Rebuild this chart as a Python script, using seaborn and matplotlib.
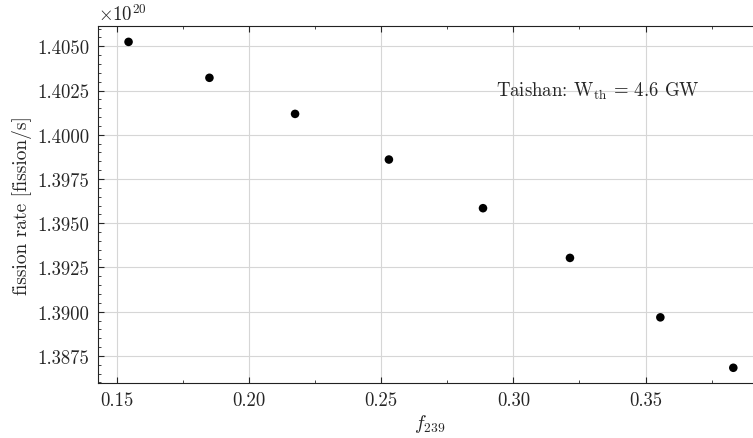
import matplotlib
matplotlib.use("Agg")
import matplotlib.pyplot as plt
import seaborn as sns
import pandas as pd
from matplotlib.ticker import AutoMinorLocator, MultipleLocator

# data (fission rate in units of 1e20 fission/s)
f239 = [0.1544, 0.1850, 0.2174, 0.2529, 0.2885, 0.3214, 0.3556, 0.3832]
rate_e20 = [1.40525, 1.40322, 1.40118, 1.39860, 1.39585, 1.39304, 1.38968, 1.38683]
annotation = r"Taishan: W$_{\rm th}$ = 4.6 GW"

df = pd.DataFrame({"f239": f239, "rate": [r * 1e20 for r in rate_e20]})

sns.set_theme(style="ticks")
plt.rcParams.update({
    "font.family": ["cmr10", "DejaVu Serif"],
    "mathtext.fontset": "cm",
    "axes.formatter.use_mathtext": True,
    "font.size": 13.5,
    "axes.labelsize": 14,
    "xtick.labelsize": 13.5,
    "ytick.labelsize": 13.5,
    "xtick.direction": "in",
    "ytick.direction": "in",
    "xtick.top": True,
    "ytick.right": True,
    "axes.edgecolor": "#222222",
    "axes.linewidth": 0.8,
})

fig = plt.figure(figsize=(7.53, 4.39), dpi=100)
ax = fig.add_axes([0.130, 0.1253, 0.880, 0.8137])

ax.grid(True, color="#d6d6d6", linewidth=0.8)
ax.set_axisbelow(True)

sns.scatterplot(data=df, x="f239", y="rate", ax=ax, color="black", s=38,
                edgecolor="none", linewidth=0, zorder=3)

ax.set_xlim(0.1428, 0.3935)
ax.set_ylim(1.38597e20, 1.40616e20)
ax.xaxis.set_major_locator(MultipleLocator(0.05))
ax.xaxis.set_minor_locator(AutoMinorLocator(2))
ax.yaxis.set_major_locator(MultipleLocator(0.0025e20))
ax.yaxis.set_minor_locator(AutoMinorLocator(5))
ax.tick_params(which="major", length=4, width=0.8, top=True, right=True, pad=6)
ax.tick_params(which="minor", length=2.2, width=0.6, top=True, right=True)
ax.xaxis.set_major_formatter(matplotlib.ticker.FuncFormatter(lambda v, p: f"{v:.2f}"))
ax.yaxis.set_major_formatter(matplotlib.ticker.FuncFormatter(lambda v, p: f"{v/1e20:.4f}"))
ax.text(0.0, 1.005, r"$\times 10^{20}$", transform=ax.transAxes, ha="left", va="bottom",
        fontsize=13.5)

ax.set_xlabel(r"$f_{239}$", labelpad=2)
ax.set_ylabel("fission rate [fission/s]", labelpad=4)

ax.text(0.2935, 1.4025e20, annotation, ha="left", va="center", fontsize=13.5)

fig.savefig("out.png", dpi=100)
